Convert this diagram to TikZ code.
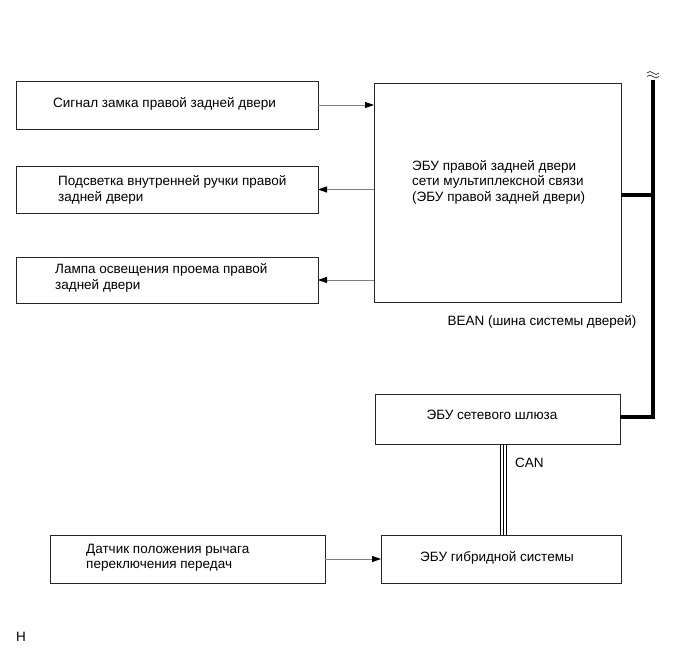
\documentclass[tikz,border=0pt]{standalone}
\usepackage{fontspec}
\setmainfont{Liberation Sans}
\usetikzlibrary{arrows.meta,calc}
\begin{document}
\begin{tikzpicture}[x=1pt,y=-1pt,
  font=\fontsize{13.5}{15.5}\selectfont,
  box/.style={draw=black!85, line width=0.8pt, inner sep=0pt, outer sep=0pt, anchor=north west},
  sig/.style={draw=black!50, line width=0.8pt, -{Triangle[length=9pt,width=6pt,fill=black,color=black]}},
  bus/.style={line width=3.6pt, miter limit=10},
  can/.style={draw=black, line width=0.7pt},
  wavy/.style={draw=black, line width=0.6pt},
  txt/.style={inner sep=0pt, anchor=west, align=left}]
\useasboundingbox (0,0) rectangle (690,660);
% boxes
\node[box, minimum width=302pt, minimum height=48pt] (sigbox) at (16,81) {};
\node[box, minimum width=302pt, minimum height=47pt] (lit) at (16,166) {};
\node[box, minimum width=302pt, minimum height=46pt] (lamp) at (16,257) {};
\node[box, minimum width=247pt, minimum height=219pt] (ecu) at (374,83) {};
\node[box, minimum width=245pt, minimum height=50pt] (gw) at (375,394) {};
\node[box, minimum width=240pt, minimum height=48pt] (hyb) at (381,535) {};
\node[box, minimum width=275pt, minimum height=48pt] (sens) at (50,535) {};
% texts
\node[txt] (t1) at (53,104) {Сигнал замка правой задней двери};
\node[txt] (t2) at (58,190) {Подсветка внутренней ручки правой\\задней двери};
\node[txt] (t3) at (55,278) {Лампа освещения проема правой\\задней двери};
\node[txt] (t4) at (412,182) {ЭБУ правой задней двери\\сети мультиплексной связи\\(ЭБУ правой задней двери)};
\node[inner sep=0pt] (bean) at (542,322) {BEAN (шина системы дверей)};
\node[inner sep=0pt] (t5) at (492,415) {ЭБУ сетевого шлюза};
\node[txt] (canl) at (515,463) {CAN};
\node[inner sep=0pt] (t6) at (497,558) {ЭБУ гибридной системы};
\node[txt] (t7) at (86,558) {Датчик положения рычага\\переключения передач};
\node[txt] (hh) at (16,637) {H};
% break mark above the bus
\draw[wavy] (647,73) sin (650,71.5) cos (653,73) sin (656,74.5) cos (659,73);
\draw[wavy] (647,76.5) sin (650,75) cos (653,76.5) sin (656,78) cos (659,76.5);
% signal arrows
\draw[sig] (sigbox.east) -- (sigbox.east -| ecu.west);
\draw[sig] (lit.east -| ecu.west) -- (lit.east);
\draw[sig] (lamp.east -| ecu.west) -- (lamp.east);
\draw[sig] (sens.east) -- (sens.east -| hyb.west);
% BEAN bus
\coordinate (bT) at (653,80);
\coordinate (bJ) at (653,195);
\coordinate (bB) at (653,417);
\draw[bus] (bT) -- (bB) -- (bB -| gw.east);
\draw[bus] (bJ) -- (bJ -| ecu.east);
% CAN
\coordinate (canx) at (503,0);
\foreach \dx in {-3,0,3}
  \draw[can] ($(gw.south -| canx)+(\dx,0)$) -- ($(hyb.north -| canx)+(\dx,0)$);
\end{tikzpicture}
\end{document}
